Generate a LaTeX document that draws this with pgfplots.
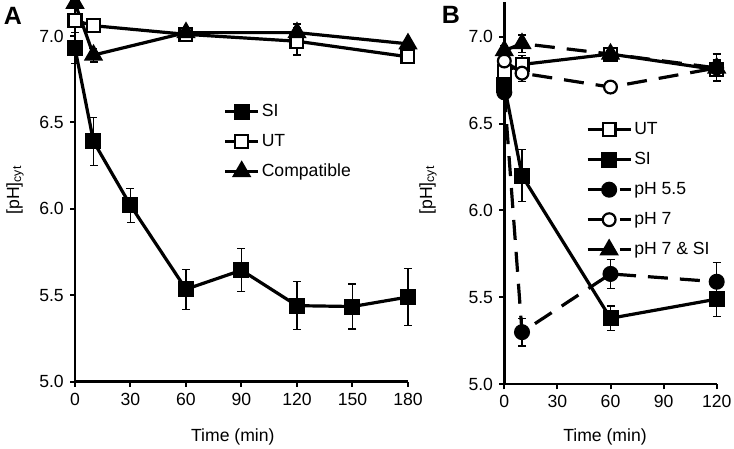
\documentclass[border=0pt]{standalone}
\usepackage{fontspec}
\setmainfont{Liberation Sans}
\usepackage{pgfplots}
\pgfplotsset{compat=1.18}
\begin{document}
\fontsize{8.8}{10.5}\selectfont
\begin{tikzpicture}
\useasboundingbox (0pt,0pt) rectangle (367pt,224.5pt);
\pgfplotsset{
  myaxis/.style={
    scale only axis, clip=false,
    axis lines=left,
    axis line style={line width=1.2pt,-},
    tick style={line width=1pt, black},
    tick align=outside, major tick length=2.5pt,
    ymin=5, ymax=7.2, ytick={5,5.5,6,6.5,7},
    yticklabel style={/pgf/number format/.cd, fixed, fixed zerofill, precision=1, assume math mode=true},
    xticklabel style={/pgf/number format/assume math mode=true},
    tick label style={font=\fontsize{8.8}{10.5}\selectfont},
    label style={font=\fontsize{8.8}{10.5}\selectfont},
    every axis plot/.append style={line width=1.6pt, black},
    legend style={draw=none, fill=none, inner sep=0pt, row sep=5pt,
      font=\fontsize{8.8}{10.5}\selectfont,
      nodes={inner sep=1pt, text height=6.5pt, text depth=1.5pt}},
    legend cell align=left,
  },
  errs/.style={error bars/.cd, y dir=both, y explicit,
      error bar style={line width=0.6pt, solid, black},
      error mark options={rotate=90, mark size=2pt, line width=0.6pt, solid, black}},
  sqf/.style={black, mark=square*, mark size=3.2pt, mark options={solid, fill=black}},
  sqo/.style={black, mark=square*, mark size=3.2pt, mark options={solid, fill=white, line width=1.1pt}},
  trf/.style={black, mark=triangle*, mark size=4pt, mark options={solid, fill=black}},
  cif/.style={black, mark=*, mark size=3.2pt, mark options={solid, fill=black}},
  cio/.style={black, mark=*, mark size=3.2pt, mark options={solid, fill=white, line width=1.1pt}},
  dsh/.style={dash pattern=on 10pt off 6pt},
}
% ---------------- Panel A
\begin{axis}[myaxis, at={(37.5pt,33.65pt)}, anchor=south west,
  width=166.5pt, height=190.1pt,
  xmin=0, xmax=180, xtick={0,30,60,90,120,150,180},
  xlabel={Time (min)}, ylabel={[pH]\textsubscript{cyt}},
  xlabel style={at={(axis description cs:0.474,-0.145)}, anchor=center},
  ylabel style={at={(axis description cs:-0.18,0.504)}, anchor=center, rotate=0},
  legend style={at={(0.445,0.738)}, anchor=north west},
  legend image code/.code={\draw[mark repeat=2,mark phase=2,#1] plot coordinates {(0pt,0pt)(8.25pt,0pt)(16.5pt,0pt)};},
]
\addplot[sqf, errs] coordinates {
 (0,6.93) +- (0,0.09)
 (10,6.39) +- (0,0.14)
 (30,6.02) +- (0,0.10)
 (60,5.535) +- (0,0.115)
 (90,5.645) +- (0,0.125)
 (120,5.44) +- (0,0.14)
 (150,5.435) +- (0,0.13)
 (180,5.49) +- (0,0.165)
};
\addlegendentry{SI}
\addplot[sqo, errs] coordinates {
 (0,7.09) +- (0,0.02)
 (10,7.06) +- (0,0.02)
 (60,7.01) +- (0,0.02)
 (120,6.97) +- (0,0.08)
 (180,6.88) +- (0,0.02)
};
\addlegendentry{UT}
\addplot[trf, errs] coordinates {
 (0,7.19) +- (0,0.02)
 (10,6.89) +- (0,0.04)
 (60,7.02) +- (0,0.03)
 (120,7.02) +- (0,0.05)
 (180,6.955) +- (0,0.02)
};
\addlegendentry{Compatible}
\end{axis}
% ---------------- Panel B
\begin{axis}[myaxis, at={(252.15pt,32.35pt)}, anchor=south west,
  width=106.2pt, height=191.2pt,
  xmin=0, xmax=120, xtick={0,30,60,90,120},
  xlabel={Time (min)}, ylabel={[pH]\textsubscript{cyt}},
  xlabel style={at={(axis description cs:0.474,-0.138)}, anchor=center},
  ylabel style={at={(axis description cs:-0.359,0.508)}, anchor=center, rotate=0},
  legend style={at={(0.383,0.693)}, anchor=north west},
  legend image code/.code={\draw[mark repeat=2,mark phase=2,#1] plot coordinates {(0pt,0pt)(10.75pt,0pt)(21.5pt,0pt)};},
]
\addplot[sqo, errs] coordinates {
 (0,6.80) +- (0,0.02)
 (10,6.84) +- (0,0.05)
 (60,6.90) +- (0,0.02)
 (120,6.81) +- (0,0.06)
};
\addlegendentry{UT}
\addplot[sqf, errs] coordinates {
 (0,6.72) +- (0,0.05)
 (10,6.20) +- (0,0.15)
 (60,5.38) +- (0,0.07)
 (120,5.49) +- (0,0.10)
};
\addlegendentry{SI}
\addplot[cif, dsh, errs] coordinates {
 (0,6.68) +- (0,0.03)
 (10,5.30) +- (0,0.08)
 (60,5.635) +- (0,0.085)
 (120,5.59) +- (0,0.11)
};
\addlegendentry{pH 5.5}
\addplot[cio, dsh, errs] coordinates {
 (0,6.86) +- (0,0.02)
 (10,6.79) +- (0,0.05)
 (60,6.71) +- (0,0.02)
 (120,6.82) +- (0,0.04)
};
\addlegendentry{pH 7}
\addplot[trf, dsh, errs] coordinates {
 (0,6.92) +- (0,0.03)
 (10,6.96) +- (0,0.05)
 (60,6.90) +- (0,0.02)
 (120,6.82) +- (0,0.08)
};
\addlegendentry{pH 7 \& SI}
\end{axis}
\node[font=\fontsize{12.5}{14}\selectfont\bfseries] at (6.5pt,216.5pt) {A};
\node[font=\fontsize{12.5}{14}\selectfont\bfseries] at (225.5pt,217pt) {B};
\end{tikzpicture}
\end{document}
